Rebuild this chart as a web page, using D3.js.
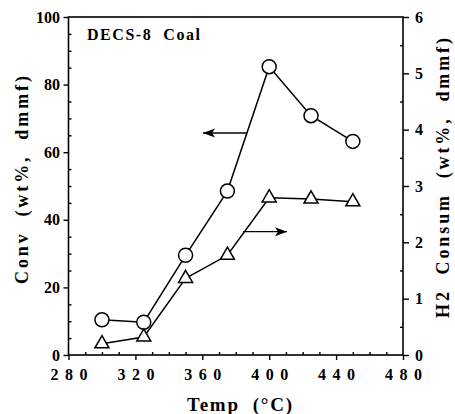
<!DOCTYPE html>
<html>
<head>
<meta charset="utf-8">
<script src="https://cdn.jsdelivr.net/npm/d3@7"></script>
<style>
  body { margin: 0; background: #fff; }
  svg { display: block; }
  text { font-family: "Liberation Serif", "Times New Roman", serif; font-weight: bold; fill: #000; }
</style>
</head>
<body>
<svg id="chart" width="455" height="414"></svg>
<script>
// Reaction temperature (°C)
const temps = [300, 325, 350, 375, 400, 425, 450];
// Coal conversion, wt% dmmf (left axis)
const conversion = [10.4, 9.7, 29.5, 48.5, 85.3, 70.8, 63.2];
// H2 consumption, wt% dmmf (right axis)
const h2Consumption = [0.2, 0.32, 1.36, 1.77, 2.79, 2.77, 2.72];

const xTicks = [280, 320, 360, 400, 440, 480];
const yLeftTicks = [0, 20, 40, 60, 80, 100];
const yRightTicks = [0, 1, 2, 3, 4, 5, 6];

const svg = d3.select("#chart");
const plotL = 68.5, plotR = 403, plotT = 17, plotB = 355;

const x = d3.scaleLinear().domain([280, 480]).range([plotL, plotR]);
const yL = d3.scaleLinear().domain([0, 100]).range([plotB, plotT]);
const yR = d3.scaleLinear().domain([0, 6]).range([plotB, plotT]);

// frame
svg.append("rect")
  .attr("x", plotL).attr("y", plotT)
  .attr("width", plotR - plotL).attr("height", plotB - plotT)
  .attr("fill", "none").attr("stroke", "#000").attr("stroke-width", 1.6);

// bottom axis: major ticks outward, minor ticks inward
const xAxis = svg.append("g").attr("transform", `translate(0,${plotB})`)
  .call(d3.axisBottom(x).tickValues(xTicks).tickSize(5));
svg.append("g").attr("transform", `translate(0,${plotB})`)
  .call(d3.axisTop(x).tickValues(d3.range(290, 480, 10).filter(v => v % 40 !== 0)).tickSize(3).tickFormat(""));

// left axis
const yLAxis = svg.append("g").attr("transform", `translate(${plotL},0)`)
  .call(d3.axisLeft(yL).tickValues(yLeftTicks).tickSize(5));
svg.append("g").attr("transform", `translate(${plotL},0)`)
  .call(d3.axisRight(yL).tickValues(d3.range(5, 100, 5).filter(v => v % 20 !== 0)).tickSize(3).tickFormat(""));

// right axis
const yRAxis = svg.append("g").attr("transform", `translate(${plotR},0)`)
  .call(d3.axisRight(yR).tickValues(yRightTicks).tickSize(6).tickFormat(d3.format("d")));
svg.append("g").attr("transform", `translate(${plotR},0)`)
  .call(d3.axisLeft(yR).tickValues(d3.range(0.5, 6, 1)).tickSize(3).tickFormat(""));

svg.selectAll(".domain").remove();
svg.selectAll("g").attr("font-family", null).attr("font-size", null);
svg.selectAll(".tick line").attr("stroke", "#000").attr("stroke-width", 1.4);
svg.selectAll(".tick text")
  .style("font-family", "'Liberation Serif', 'Times New Roman', serif")
  .style("font-weight", "bold")
  .style("font-size", "16px");

xAxis.selectAll(".tick text")
  .attr("dy", null).attr("y", 25)
  .attr("textLength", 37).attr("lengthAdjust", "spacing");
yLAxis.selectAll(".tick text").attr("x", -8.5);
yRAxis.selectAll(".tick text").attr("x", 12);

// lines
const convLine = d3.line().x((d, i) => x(temps[i])).y(d => yL(d));
const h2Line = d3.line().x((d, i) => x(temps[i])).y(d => yR(d));

svg.append("path").datum(conversion).attr("d", convLine)
  .attr("fill", "none").attr("stroke", "#000").attr("stroke-width", 1.5);
svg.append("path").datum(h2Consumption).attr("d", h2Line)
  .attr("fill", "none").attr("stroke", "#000").attr("stroke-width", 1.5);

// markers
svg.selectAll(".conv").data(conversion).enter().append("circle")
  .attr("cx", (d, i) => x(temps[i])).attr("cy", d => yL(d)).attr("r", 7)
  .attr("fill", "#fff").attr("stroke", "#000").attr("stroke-width", 1.5);

const tri = d3.symbol().type(d3.symbolTriangle).size(85);
svg.selectAll(".h2").data(h2Consumption).enter().append("path")
  .attr("d", tri)
  .attr("transform", (d, i) => `translate(${x(temps[i])},${yR(d)})`)
  .attr("fill", "#fff").attr("stroke", "#000").attr("stroke-width", 1.5);

// arrows pointing to each series' axis
function arrow(x1, x2, y) {
  svg.append("line").attr("x1", x1).attr("x2", x2).attr("y1", y).attr("y2", y)
    .attr("stroke", "#000").attr("stroke-width", 1.4);
  const dir = Math.sign(x2 - x1);
  svg.append("path")
    .attr("d", `M${x2},${y} L${x2 - dir * 12},${y - 4.5} L${x2 - dir * 9},${y} L${x2 - dir * 12},${y + 4.5} Z`)
    .attr("fill", "#000");
}
arrow(246.7, 203, yL(65.7));
arrow(243, 287, yR(2.19));

// labels
svg.append("text").attr("x", 87).attr("y", 40).style("font-size", "16px")
  .attr("xml:space", "preserve")
  .attr("textLength", 113).attr("lengthAdjust", "spacing")
  .text("DECS-8  Coal");

svg.append("text").attr("x", 187).attr("y", 411).style("font-size", "19px")
  .attr("xml:space", "preserve")
  .attr("textLength", 105).attr("lengthAdjust", "spacing")
  .text("Temp  (\u00B0C)");

svg.append("text").attr("transform", `translate(28,284) rotate(-90)`)
  .style("font-size", "18px")
  .attr("xml:space", "preserve")
  .attr("textLength", 208).attr("lengthAdjust", "spacing")
  .text("Conv  (wt%,  dmmf)");

svg.append("text").attr("transform", `translate(449,318) rotate(-90)`)
  .style("font-size", "18px")
  .attr("xml:space", "preserve")
  .attr("textLength", 280).attr("lengthAdjust", "spacing")
  .text("H2  Consum  (wt%,  dmmf)");
</script>
</body>
</html>
